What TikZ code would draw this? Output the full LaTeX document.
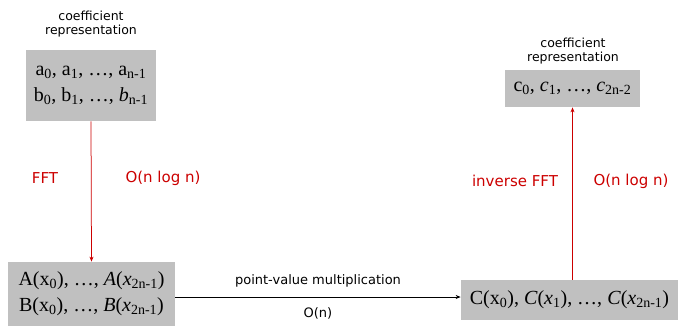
\documentclass[tikz,border=0pt]{standalone}
\usepackage{fontspec}
\setmainfont{Liberation Serif}
\newfontfamily\labelfont{DejaVu Sans}
\usetikzlibrary{arrows.meta}

\definecolor{boxgrey}{RGB}{192,192,192}
\definecolor{fftred}{RGB}{204,0,0}

\tikzset{every picture/.style={line width=0.75pt}}
\tikzset{
  polybox/.style={fill=boxgrey, inner sep=0pt, align=center, font=\fontsize{20}{26}\selectfont},
  caption/.style={inner sep=0.75pt, align=center, font=\labelfont\fontsize{12.5}{14}\selectfont},
  costlabel/.style={inner sep=0.75pt, text=fftred, font=\labelfont\fontsize{15}{17}\selectfont},
  steplabel/.style={inner sep=0.75pt, font=\labelfont\fontsize{13}{15}\selectfont},
}

\begin{document}
\begin{tikzpicture}[x=1pt,y=1pt,yscale=-1,xscale=1]
		\useasboundingbox (0,0) rectangle (679,329);

		%Shape: Rectangle [coefficients of A and B]
		\node [polybox, minimum width=130pt, minimum height=71pt] (coefAB) at (91,85.5)
			{a\textsubscript{0}, a\textsubscript{1}, \ldots, a\textsubscript{n-1}\\
			 b\textsubscript{0}, b\textsubscript{1}, \ldots, \textit{b}\textsubscript{n-1}};
		%Shape: Rectangle [coefficients of C]
		\node [polybox, minimum width=135pt, minimum height=37pt] (coefC) at (572.5,88.5)
			{c\textsubscript{0}, \textit{c}\textsubscript{1}, \ldots, \textit{c}\textsubscript{2n-2}};
		%Shape: Rectangle [values of A and B]
		\node [polybox, minimum width=167pt, minimum height=64pt] (valAB) at (91.5,294)
			{A(x\textsubscript{0}), \ldots, \textit{A}(\textit{x}\textsubscript{2n-1})\\
			 B(x\textsubscript{0}), \ldots, \textit{B}(\textit{x}\textsubscript{2n-1})};
		%Shape: Rectangle [values of C]
		\node [polybox, minimum width=217pt, minimum height=40pt] (valC) at (569.5,300)
			{C(x\textsubscript{0}), \textit{C}(\textit{x}\textsubscript{1}), \ldots, \textit{C}(\textit{x}\textsubscript{2n-1})};

		% Text Node
		\node [caption] (capAB) at (91,24) {coefficient\\representation};
		% Text Node
		\node [caption] (capC) at (573,51) {coefficient\\representation};

		%Straight Lines [FFT]
		\draw [fftred, -{Stealth[length=5pt,width=4pt]}] (coefAB.south) -- (valAB.north);
		%Straight Lines [inverse FFT]
		\draw [fftred, -{Stealth[length=5pt,width=4pt]}] (valC.north -| coefC.south) -- (coefC.south);
		%Straight Lines [multiplication]
		\draw [-{Stealth[length=5pt,width=4pt]}] (valAB.east |- 0,297) -- (valC.west |- 0,297);

		% Text Node
		\node [costlabel] (fft) at (45,178) {FFT};
		% Text Node
		\node [costlabel] (fftcost) at (163,178) {O(n log n)};
		% Text Node
		\node [costlabel] (ifft) at (515,181) {inverse FFT};
		% Text Node
		\node [costlabel] (ifftcost) at (631,181) {O(n log n)};
		% Text Node
		\node [steplabel] (mult) at (318,281) {point-value multiplication};
		% Text Node
		\node [steplabel] (multcost) at (318,313) {O(n)};

\end{tikzpicture}
\end{document}
